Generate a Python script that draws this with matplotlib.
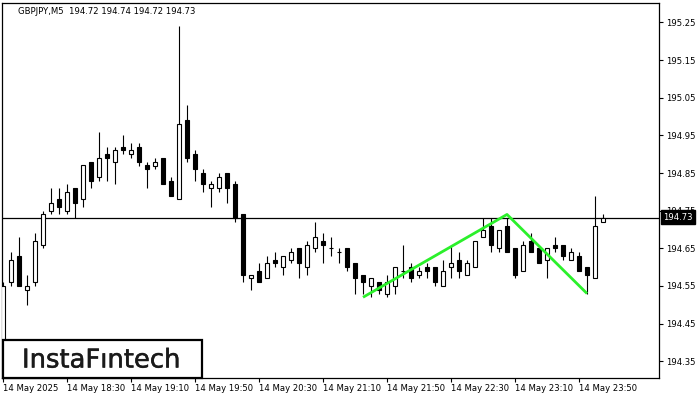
import matplotlib
matplotlib.use('Agg')
import matplotlib.pyplot as plt
from matplotlib.patches import Rectangle
import matplotlib.patheffects as pe

symbol = 'GBPJPY,M5'
last_bar = [194.72, 194.74, 194.72, 194.73]

# M5 bars (first bar 17:50)
opens = [194.35, 194.56, 194.63, 194.54, 194.56, 194.66, 194.75, 194.78, 194.75, 194.81,
         194.78, 194.88, 194.84, 194.90, 194.88, 194.92, 194.90, 194.92, 194.87, 194.87,
         194.89, 194.83, 194.78, 194.99, 194.90, 194.85, 194.81, 194.81, 194.85, 194.82,
         194.74, 194.57, 194.59, 194.57, 194.62, 194.60, 194.62, 194.65, 194.60, 194.65,
         194.67, 194.65, 194.64, 194.65, 194.61, 194.58, 194.55, 194.56, 194.53, 194.55,
         194.59, 194.60, 194.58, 194.60, 194.60, 194.55, 194.60, 194.62, 194.58, 194.60,
         194.68, 194.71, 194.65, 194.71, 194.65, 194.59, 194.67, 194.65, 194.62, 194.66,
         194.66, 194.62, 194.63, 194.60, 194.57, 194.72]
highs = [194.56, 194.64, 194.68, 194.58, 194.69, 194.75, 194.81, 194.81, 194.82, 194.81,
         194.87, 194.88, 194.96, 194.92, 194.92, 194.95, 194.93, 194.93, 194.88, 194.89,
         194.89, 194.84, 195.24, 195.03, 194.91, 194.86, 194.83, 194.85, 194.85, 194.83,
         194.74, 194.58, 194.61, 194.63, 194.64, 194.63, 194.65, 194.65, 194.67, 194.72,
         194.69, 194.68, 194.65, 194.65, 194.61, 194.58, 194.57, 194.56, 194.58, 194.60,
         194.66, 194.61, 194.60, 194.61, 194.60, 194.62, 194.66, 194.64, 194.62, 194.67,
         194.73, 194.73, 194.70, 194.73, 194.65, 194.67, 194.69, 194.65, 194.65, 194.68,
         194.66, 194.65, 194.64, 194.60, 194.79, 194.74]
lows = [194.33, 194.55, 194.55, 194.50, 194.55, 194.65, 194.74, 194.74, 194.74, 194.73,
        194.76, 194.81, 194.83, 194.83, 194.82, 194.90, 194.89, 194.87, 194.81, 194.86,
        194.82, 194.79, 194.78, 194.88, 194.83, 194.80, 194.76, 194.80, 194.77, 194.72,
        194.56, 194.54, 194.56, 194.57, 194.60, 194.58, 194.61, 194.57, 194.58, 194.64,
        194.61, 194.63, 194.61, 194.59, 194.53, 194.53, 194.52, 194.53, 194.52, 194.53,
        194.57, 194.56, 194.57, 194.57, 194.55, 194.55, 194.57, 194.57, 194.58, 194.60,
        194.68, 194.64, 194.64, 194.64, 194.57, 194.59, 194.64, 194.61, 194.57, 194.64,
        194.62, 194.62, 194.59, 194.53, 194.57, 194.72]
closes = [194.55, 194.62, 194.55, 194.55, 194.67, 194.74, 194.77, 194.76, 194.80, 194.77,
          194.87, 194.83, 194.89, 194.89, 194.91, 194.91, 194.91, 194.88, 194.86, 194.88,
          194.82, 194.79, 194.98, 194.89, 194.86, 194.82, 194.82, 194.84, 194.81, 194.73,
          194.58, 194.58, 194.56, 194.61, 194.61, 194.63, 194.64, 194.61, 194.66, 194.68,
          194.66, 194.65, 194.64, 194.60, 194.57, 194.56, 194.57, 194.54, 194.56, 194.60,
          194.59, 194.57, 194.59, 194.59, 194.56, 194.59, 194.61, 194.59, 194.61, 194.67,
          194.70, 194.66, 194.70, 194.64, 194.58, 194.66, 194.64, 194.61, 194.65, 194.65,
          194.63, 194.64, 194.59, 194.58, 194.71, 194.73]

time_labels = ['14 May 2025', '14 May 18:30', '14 May 19:10', '14 May 19:50', '14 May 20:30',
               '14 May 21:10', '14 May 21:50', '14 May 22:30', '14 May 23:10', '14 May 23:50']
bars_per_label = 8

price_ticks = [194.35, 194.45, 194.55, 194.65, 194.75, 194.85, 194.95, 195.05, 195.15, 195.25]

# double top pattern (bar index, price)
pattern_bar = [45, 63, 73]
pattern_price = [194.52, 194.74, 194.53]

W, H = 700, 400
fig = plt.figure(figsize=(7, 4), dpi=100)
ax = fig.add_axes([2 / W, 22 / H, 657 / W, 375 / H])
ax.set_xlim(-0.125, 82.0)
ax.set_ylim(194.3056, 195.3016)

body_w = 0.6
for i in range(len(opens)):
    o, h, l, c = opens[i], highs[i], lows[i], closes[i]
    ax.vlines(i, l, h, color='black', lw=0.8, zorder=2)
    fc = 'white' if c >= o else 'black'
    ax.add_patch(Rectangle((i - body_w / 2, min(o, c)), body_w, abs(c - o),
                           facecolor=fc, edgecolor='black', lw=0.8, zorder=3))

ax.plot(pattern_bar, pattern_price, color='#2bf02b', lw=2.0, zorder=4,
        solid_capstyle='butt')

ax.axhline(closes[-1], color='black', lw=0.9, zorder=2)

for s in ax.spines.values():
    s.set_linewidth(0.9)
    s.set_color('black')

ax.yaxis.tick_right()
ax.set_yticks(price_ticks)
ax.set_yticklabels(['%.2f' % v for v in price_ticks])
ax.tick_params(axis='y', length=3, width=0.8, pad=2, labelsize=6.1)

ax.set_xticks(list(range(0, len(time_labels) * bars_per_label, bars_per_label)))
ax.set_xticklabels(time_labels)
ax.tick_params(axis='x', length=3, width=0.8, pad=1.5, labelsize=6.1)
for lbl in ax.get_xticklabels():
    lbl.set_ha('left')

# header
fig.text(18 / W, 1 - 11 / H, symbol + '  ' + ' '.join('%.2f' % v for v in last_bar),
         fontsize=6.1, va='center', ha='left')

# current price tag (covers part of the 194.75 label, like the terminal does)
fig.text(663 / W, 1 - 217 / H, '%.2f' % closes[-1], fontsize=6.1, color='white',
         va='center', ha='left',
         bbox=dict(boxstyle='square,pad=0.25', fc='black', ec='black'), zorder=5)

# logo
fig.add_artist(Rectangle((3 / W, 1 - 378 / H), 199 / W, 38 / H, transform=fig.transFigure,
                         facecolor='white', edgecolor='black', lw=1.6, zorder=5))
fig.text(22 / W, 1 - 367.5 / H, 'InstaF\u0131ntech', fontsize=18.6, color='#1a1a1a',
         va='baseline', ha='left', zorder=6,
         path_effects=[pe.withStroke(linewidth=0.35, foreground='#1a1a1a')])

fig.savefig('out.png', dpi=100)
